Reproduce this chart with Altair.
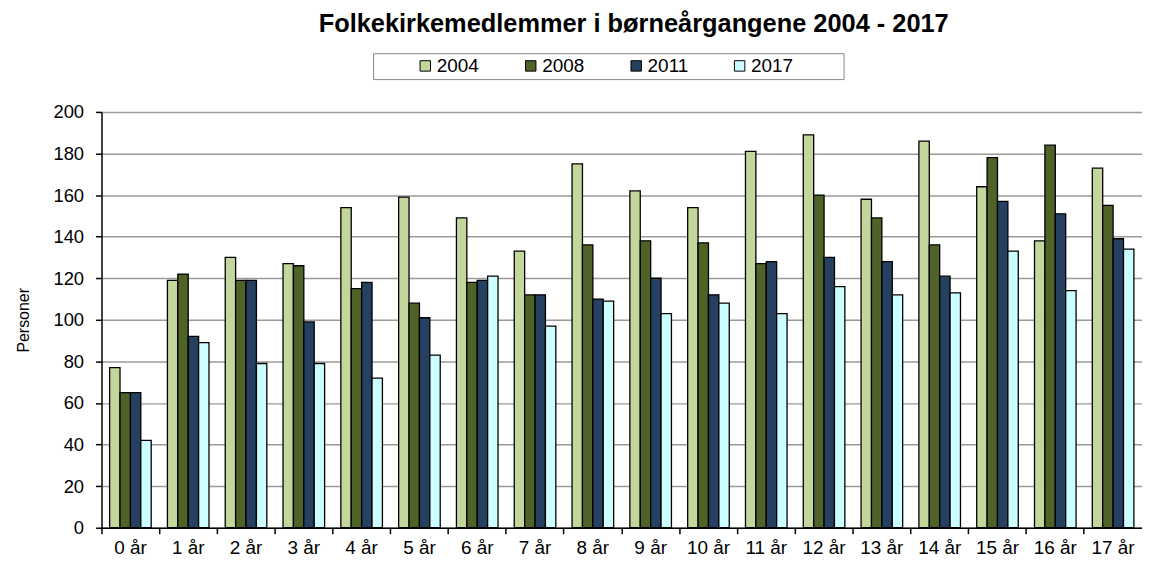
import altair as alt
import pandas as pd

ages = ["0 år", "1 år", "2 år", "3 år", "4 år", "5 år", "6 år", "7 år", "8 år",
        "9 år", "10 år", "11 år", "12 år", "13 år", "14 år", "15 år", "16 år", "17 år"]
years = ["2004", "2008", "2011", "2017"]
v2004 = [77, 119, 130, 127, 154, 159, 149, 133, 175, 162, 154, 181, 189, 158, 186, 164, 138, 173]
v2008 = [65, 122, 119, 126, 115, 108, 118, 112, 136, 138, 137, 127, 160, 149, 136, 178, 184, 155]
v2011 = [65, 92, 119, 99, 118, 101, 119, 112, 110, 120, 112, 128, 130, 128, 121, 157, 151, 139]
v2017 = [42, 89, 79, 79, 72, 83, 121, 97, 109, 103, 108, 103, 116, 112, 113, 133, 114, 134]
colors = ["#C3D69B", "#4F6228", "#254061", "#CCFFFF"]

rows = []
for yr, vals in zip(years, [v2004, v2008, v2011, v2017]):
    for a, v in zip(ages, vals):
        rows.append({"alder": a, "aar": yr, "personer": v})
df = pd.DataFrame(rows)

FONT = "Arial, Liberation Sans, sans-serif"
W, H = 1046, 418

chart = alt.Chart(df).mark_bar(stroke="black", strokeWidth=1.3).encode(
    x=alt.X("alder:N", sort=ages,
            scale=alt.Scale(paddingInner=0, paddingOuter=0),
            axis=alt.Axis(title=None, labelAngle=0, bandPosition=0,
                          labelFontSize=19, labelFont=FONT,
                          labelColor="black", domainColor="black", domainWidth=1.5,
                          tickColor="black", tickSize=6, tickWidth=1.5,
                          labelPadding=5)),
    xOffset=alt.XOffset("aar:N", sort=years,
                        scale=alt.Scale(paddingInner=0, paddingOuter=0.78)),
    y=alt.Y("personer:Q",
            scale=alt.Scale(domain=[0, 200], nice=False),
            axis=alt.Axis(title="Personer", values=list(range(0, 201, 20)),
                          titleFont=FONT, titleFontSize=16, titleFontWeight="normal",
                          titleColor="black", titlePadding=22,
                          labelFont=FONT, labelFontSize=18.5, labelColor="black",
                          labelPadding=12, domainColor="black", domainWidth=1.5,
                          tickColor="black", tickSize=6, tickWidth=1.5,
                          grid=True, gridColor="#9a9a9a", gridWidth=1.5)),
    color=alt.Color("aar:N", sort=years,
                    scale=alt.Scale(domain=years, range=colors),
                    legend=alt.Legend(title="\u00a0", titleOrient="right", titlePadding=48,
                                      titleFontSize=10,
                                      orient="none", legendX=273, legendY=-59,
                                      direction="horizontal", columns=4,
                                      symbolType="square", symbolSize=110,
                                      symbolStrokeColor="black", symbolStrokeWidth=1,
                                      labelFont=FONT, labelFontSize=19, labelColor="black",
                                      labelOffset=2, symbolOffset=40, columnPadding=2,
                                      padding=3, strokeColor="#888888")),
).properties(
    width=W, height=H,
    title=alt.TitleParams("Folkekirkemedlemmer i børneårgangene 2004 - 2017",
                          font=FONT, fontSize=25.5, fontWeight="bold", color="black",
                          anchor="middle", dx=12, offset=17, dy=22,
                          baseline="alphabetic"),
    autosize=alt.AutoSizeParams(type="none"),
    padding={"left": 94, "top": 103, "right": 0, "bottom": 35},
).configure_view(stroke=None)

chart.save("out.html", embed_options={"renderer": "svg", "actions": False})
